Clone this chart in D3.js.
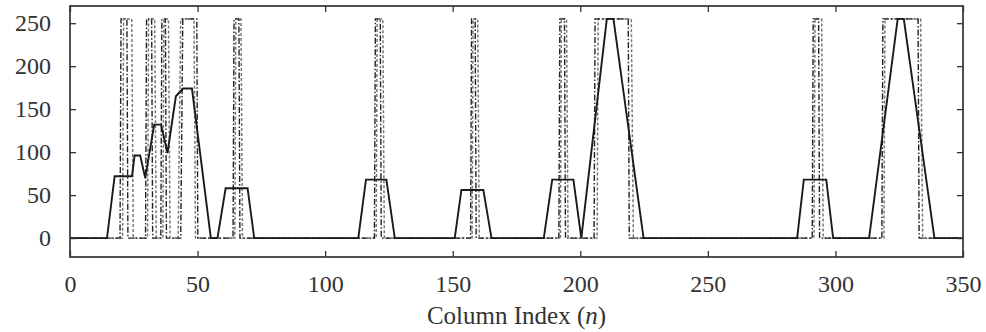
<!DOCTYPE html>
<html>
<head>
<meta charset="utf-8">
<script src="https://cdn.jsdelivr.net/npm/d3@7/dist/d3.min.js"></script>
<style>
  html, body { margin: 0; padding: 0; background: #fff; }
  svg { display: block; }
  text { font-family: "Liberation Serif", "DejaVu Serif", serif; fill: #333; }
</style>
</head>
<body>
<svg id="chart" width="986" height="332"></svg>
<script>
// ---- Data ----
const xTicks = [0, 50, 100, 150, 200, 250, 300, 350];
const yTicks = [0, 50, 100, 150, 200, 250];

// Solid profile
const solidX = [0, 14.5, 17.5, 24.3, 25.3, 27.5, 29.5, 33, 35.7, 38.2, 41.5, 44.3, 47.8, 55.2, 57.8, 61, 69.6, 72.2,
  113, 116, 124, 127.3, 150.8, 153.4, 162, 165.2, 185.7, 189, 197.3, 200.4, 210.4, 213, 224.8,
  285, 287.6, 296.4, 299.1, 313.2, 324.4, 326.8, 338.8, 350];
const solidY = [0, 0, 72, 72, 96, 96, 70, 132, 132, 99, 165, 174, 174, 0, 0, 58, 58, 0,
  0, 68, 68, 0, 0, 56, 56, 0, 0, 68, 68, 0, 255, 255, 0,
  0, 68, 68, 0, 0, 255, 255, 0, 0];

// Dash-dot profile (black)
const dashDotX = [0, 19.6, 20.0, 22.3, 22.7, 29.6, 30.0, 32.0, 32.4, 35.6, 36.0, 37.4, 37.8, 43.4, 44.2, 49.7, 50.1,
  63.9, 64.3, 66.2, 66.6, 119.3, 119.7, 121.6, 122.0, 157.0, 157.4, 158.8, 159.2, 191.6, 192.0, 193.8, 194.2,
  205.4, 205.8, 218.8, 219.2, 290.9, 291.3, 293.4, 293.8, 318.2, 318.6, 332.4, 332.8, 350];
const dashDotY = [0, 0, 255, 255, 0, 0, 255, 255, 0, 0, 255, 255, 0, 0, 255, 255, 0,
  0, 255, 255, 0, 0, 255, 255, 0, 0, 255, 255, 0, 0, 255, 255, 0,
  0, 255, 255, 0, 0, 255, 255, 0, 0, 255, 255, 0, 0];

// Dashed profile (grey)
const dashedX = [0, 20.6, 21.0, 24.2, 24.8, 30.4, 30.8, 33.2, 33.8, 36.4, 36.8, 38.6, 39.2, 42.4, 43.4, 48.6, 49.2,
  64.6, 65.0, 67.0, 67.6, 120.0, 120.4, 122.6, 123.2, 157.6, 158.0, 159.8, 160.4, 192.2, 192.6, 194.6, 195.2,
  206.6, 207.0, 220.0, 220.8, 291.6, 292.0, 294.6, 295.2, 319.0, 319.4, 333.4, 334.2, 350];
const dashedY = [0, 0, 255, 255, 0, 0, 255, 255, 0, 0, 255, 255, 0, 0, 255, 255, 0,
  0, 255, 255, 0, 0, 255, 255, 0, 0, 255, 255, 0, 0, 255, 255, 0,
  0, 255, 255, 0, 0, 255, 255, 0, 0, 255, 255, 0, 0];

// ---- Layout ----
const svg = d3.select("#chart");
const L = 70, R = 963, T = 6, B = 257;
const x = d3.scaleLinear().domain([0, 350]).range([L, R]);
const y = d3.scaleLinear().domain([-22, 270]).range([B, T]);

const line = d3.line().x(d => x(d[0])).y(d => y(d[1]));
const zip = (a, b) => a.map((v, i) => [v, b[i]]);

const plot = svg.append("g");
plot.append("path").datum(zip(dashedX, dashedY)).attr("d", line)
  .attr("fill", "none").attr("stroke", "#777").attr("stroke-width", 1.5)
  .attr("stroke-dasharray", "3,2");
plot.append("path").datum(zip(dashDotX, dashDotY)).attr("d", line)
  .attr("fill", "none").attr("stroke", "#222").attr("stroke-width", 1.4)
  .attr("stroke-dasharray", "6,2,1.5,2");
plot.append("path").datum(zip(solidX, solidY)).attr("d", line)
  .attr("fill", "none").attr("stroke", "#1a1a1a").attr("stroke-width", 1.9)
  .attr("stroke-linejoin", "miter");

// ---- Axes (inner ticks on all four sides) ----
const tl = 6;
svg.append("g").attr("transform", `translate(0,${B})`)
  .call(d3.axisBottom(x).tickValues(xTicks).tickSize(-tl).tickPadding(tl + 12).tickFormat(d3.format("d")))
  .call(g => g.select(".domain").remove())
  .call(g => g.selectAll("text").attr("font-size", 24).attr("font-family", "Liberation Serif").attr("fill", "#333"))
  .call(g => g.selectAll("line").attr("stroke", "#333").attr("stroke-width", 1.3));
svg.append("g").attr("transform", `translate(0,${T})`)
  .call(d3.axisTop(x).tickValues(xTicks).tickSize(-tl).tickFormat(""))
  .call(g => g.select(".domain").remove())
  .call(g => g.selectAll("line").attr("stroke", "#333").attr("stroke-width", 1.3));
svg.append("g").attr("transform", `translate(${L},0)`)
  .call(d3.axisLeft(y).tickValues(yTicks).tickSize(-tl).tickPadding(tl + 13).tickFormat(d3.format("d")))
  .call(g => g.select(".domain").remove())
  .call(g => g.selectAll("text").attr("font-size", 24).attr("font-family", "Liberation Serif").attr("fill", "#333"))
  .call(g => g.selectAll("line").attr("stroke", "#333").attr("stroke-width", 1.3));
svg.append("g").attr("transform", `translate(${R},0)`)
  .call(d3.axisRight(y).tickValues(yTicks).tickSize(-tl).tickFormat(""))
  .call(g => g.select(".domain").remove())
  .call(g => g.selectAll("line").attr("stroke", "#333").attr("stroke-width", 1.3));

// Frame
svg.append("rect").attr("x", L).attr("y", T).attr("width", R - L).attr("height", B - T)
  .attr("fill", "none").attr("stroke", "#333").attr("stroke-width", 1.7);

// Axis title
const title = svg.append("text").attr("x", (L + R) / 2).attr("y", 324)
  .attr("text-anchor", "middle").attr("font-size", 25);
title.append("tspan").text("Column Index (");
title.append("tspan").attr("font-style", "italic").text("n");
title.append("tspan").text(")");
</script>
</body>
</html>
